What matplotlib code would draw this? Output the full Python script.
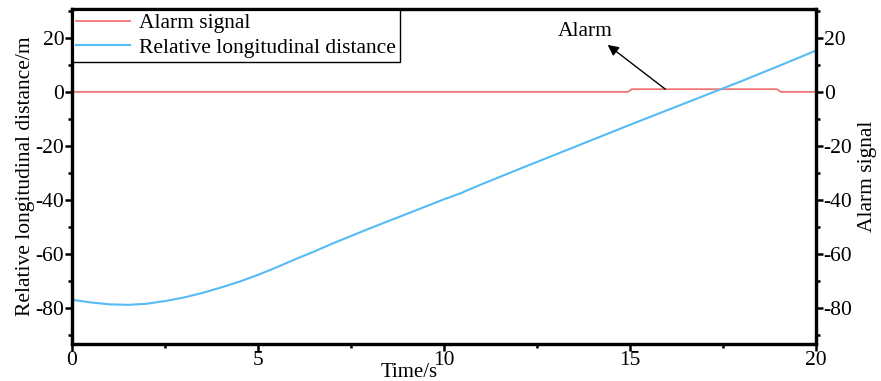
import matplotlib
matplotlib.use("Agg")
import matplotlib.pyplot as plt
from matplotlib.ticker import MultipleLocator

plt.rcParams['font.family'] = ['Liberation Serif', 'DejaVu Serif']
plt.rcParams['axes.unicode_minus'] = False

# Relative longitudinal distance (m) vs time (s)
dist_t = [0, 0.5, 1.0, 1.5, 2.0, 2.5, 3.0, 3.5, 4.0, 4.5, 5.0, 5.5, 6.0, 6.5, 7.0,
          8.0, 9.0, 10.0, 10.5, 10.55, 11.0, 12.0, 13.0, 14.0, 15.0, 16.0, 17.0,
          17.5, 18.0, 19.0, 20.0]
dist_v = [-77.0, -78.0, -78.7, -78.9, -78.5, -77.5, -76.2, -74.5, -72.5, -70.3,
          -67.8, -65.0, -62.0, -59.2, -56.2, -50.6, -45.2, -39.8, -37.3, -36.9,
          -34.3, -28.7, -23.2, -17.7, -12.2, -6.8, -1.4, 1.3, 4.0, 9.6, 15.3]

# Alarm signal vs time
alarm_t = [0, 14.95, 15.05, 18.95, 19.05, 20]
alarm_v = [0, 0, 1, 1, 0, 0]

xticks = [0, 5, 10, 15, 20]
yticks = [-80, -60, -40, -20, 0, 20]

red = '#F27575'
blue = '#55BBF5'

fig = plt.figure(figsize=(8.81, 3.81), dpi=100)
ax = fig.add_axes([72/881, 1-344/381, (816-72)/881, (344-9)/381])
ax2 = ax.twinx()

l1, = ax.plot(alarm_t, alarm_v, color=red, lw=1.3, label='Alarm signal')
l2, = ax.plot(dist_t, dist_v, color=blue, lw=1.5, label='Relative longitudinal distance')

ylim = (-93.4, 30.7)
for a in (ax, ax2):
    a.set_xlim(0, 20)
    a.set_ylim(*ylim)
    a.set_yticks(yticks)
    a.yaxis.set_minor_locator(MultipleLocator(10))
    for s in a.spines.values():
        s.set_linewidth(2.3)

ax.set_xticks(xticks)
ax.xaxis.set_minor_locator(MultipleLocator(2.5))

fs = 15.5
ax.tick_params(axis='both', which='major', direction='out', length=5, width=1.8,
               labelsize=fs, top=False, right=False)
ax.tick_params(axis='both', which='minor', direction='out', length=3, width=1.8,
               top=False, right=False)
ax.tick_params(axis='x', pad=0)
ax.tick_params(axis='y', pad=0.5)
ax2.tick_params(axis='y', which='major', direction='out', length=5, width=1.8,
                labelsize=fs, pad=0.5)
ax2.tick_params(axis='y', which='minor', direction='out', length=3, width=1.8)

ax.set_xlabel('Time/s', fontsize=15)
ax.xaxis.set_label_coords(0.453, -0.058)
ax.set_ylabel('Relative longitudinal distance/m', fontsize=fs, labelpad=0)
ax2.set_ylabel('Alarm signal', fontsize=fs, labelpad=4)

leg = ax.legend(handles=[l1, l2], loc='upper left', bbox_to_anchor=(0, 1),
                borderaxespad=0, fancybox=False, framealpha=1, edgecolor='black',
                fontsize=fs, handlelength=2.5, handletextpad=0.4,
                borderpad=0.2, labelspacing=0.2)
leg.get_frame().set_linewidth(1.0)

ax.annotate('Alarm', xy=(14.4, 17.4), xytext=(13.8, 22.5), fontsize=fs,
            ha='center', va='center')
ax.annotate('', xy=(14.4, 17.4), xytext=(15.95, 1.0),
            arrowprops=dict(arrowstyle='-|>', color='black', lw=1.0,
                            mutation_scale=16, shrinkA=0, shrinkB=0))

fig.savefig('out.png', dpi=100)
